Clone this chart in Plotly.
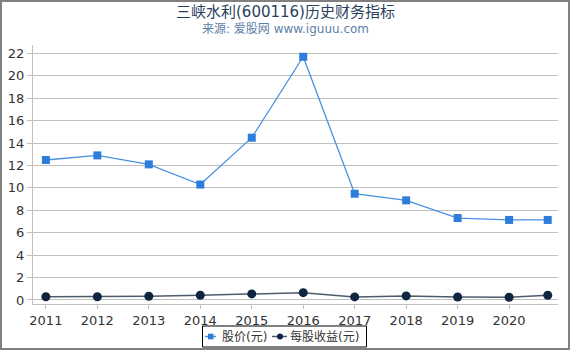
import plotly.graph_objects as go

years = [2011, 2012, 2013, 2014, 2015, 2016, 2017, 2018, 2019, 2020, 2020.75]
tick_vals = [2011, 2012, 2013, 2014, 2015, 2016, 2017, 2018, 2019, 2020]
tick_text = ["2011", "2012", "2013", "2014", "2015", "2016", "2017", "2018", "2019", "2020"]
price = [12.49, 12.9, 12.1, 10.3, 14.48, 21.7, 9.48, 8.89, 7.31, 7.14, 7.14]
eps = [0.29, 0.29, 0.33, 0.42, 0.54, 0.65, 0.27, 0.36, 0.26, 0.24, 0.42]
y_ticks = list(range(0, 23, 2))
series_names = ["股价(元)", "每股收益(元)"]

FONT = "DejaVu Sans, Noto Sans CJK SC, sans-serif"
PRICE_LINE, PRICE_MARK = "#4a90e2", "#2d7ddb"
EPS_LINE, EPS_MARK = "#4d5b6b", "#0f2440"

fig = go.Figure()
fig.add_trace(go.Scatter(
    x=years, y=price, name=series_names[0], mode="lines+markers",
    line=dict(color=PRICE_LINE, width=1.3),
    marker=dict(symbol="square", size=8, color=PRICE_MARK),
))
fig.add_trace(go.Scatter(
    x=years, y=eps, name=series_names[1], mode="lines+markers",
    line=dict(color=EPS_LINE, width=1.5),
    marker=dict(symbol="circle", size=9, color=EPS_MARK),
))

L, R, T, B = 33, 12, 45, 46
W, H = 570, 350
pw, ph = W - L - R, H - T - B


def xp(px):
    return (px - L) / pw


def yp(py):
    return 1 - (py - T) / ph


fig.update_layout(
    width=W, height=H,
    margin=dict(l=L, r=R, t=T, b=B, autoexpand=False),
    paper_bgcolor="white", plot_bgcolor="white",
    font=dict(family=FONT, size=13, color="#333333"),
    showlegend=False,
    xaxis=dict(
        range=[2010.75, 2020.95], tickvals=tick_vals, ticktext=tick_text,
        showgrid=False, zeroline=False, showline=True, linecolor="#c0c0c0", linewidth=1,
        ticks="outside", ticklen=4, tickcolor="#c0c0c0",
        tickfont=dict(size=13, color="#333333"),
    ),
    yaxis=dict(
        range=[-0.36, 22.75], tickvals=y_ticks,
        showgrid=True, gridcolor="#c0c0c0", gridwidth=1, zeroline=False,
        showline=True, linecolor="#c0c0c0", linewidth=1,
        ticks="outside", ticklen=5, tickcolor="#c0c0c0",
        tickfont=dict(size=13, color="#333333"),
    ),
)

# titles
fig.add_annotation(text="三峡水利(600116)历史财务指标", x=xp(W / 2), xref="paper",
                   xanchor="center", y=yp(12), yref="paper", yanchor="middle",
                   showarrow=False, borderpad=0, font=dict(size=15, color="#2b3f5c"))
fig.add_annotation(text="来源: 爱股网 www.iguuu.com", x=xp(W / 2), xref="paper",
                   xanchor="center", y=yp(29), yref="paper", yanchor="middle",
                   showarrow=False, borderpad=0, font=dict(size=12, color="#5b7fa8"))

# custom legend box
fig.add_shape(type="rect", xref="paper", yref="paper",
              x0=xp(202.5), x1=xp(366.5), y0=yp(347), y1=yp(326),
              line=dict(color="black", width=1), fillcolor="white", layer="above")
ly = 336.5
# item 1
fig.add_shape(type="line", xref="paper", yref="paper", x0=xp(205), x1=xp(216), y0=yp(ly), y1=yp(ly),
              line=dict(color=PRICE_LINE, width=1.5), layer="above")
fig.add_shape(type="rect", xref="paper", yref="paper", x0=xp(208), x1=xp(213.5),
              y0=yp(ly + 2.8), y1=yp(ly - 2.8), line=dict(width=0), fillcolor=PRICE_MARK, layer="above")
fig.add_annotation(text=series_names[0], x=xp(221), xref="paper", xanchor="left",
                   y=yp(ly), yref="paper", yanchor="middle", showarrow=False, borderpad=0,
                   font=dict(size=12, color="#333333"))
# item 2
fig.add_shape(type="line", xref="paper", yref="paper", x0=xp(272), x1=xp(287), y0=yp(ly), y1=yp(ly),
              line=dict(color=EPS_LINE, width=1.5), layer="above")
fig.add_shape(type="circle", xref="paper", yref="paper", x0=xp(277), x1=xp(283),
              y0=yp(ly + 3), y1=yp(ly - 3), line=dict(width=0), fillcolor=EPS_MARK, layer="above")
fig.add_annotation(text=series_names[1], x=xp(289), xref="paper", xanchor="left",
                   y=yp(ly), yref="paper", yanchor="middle", showarrow=False, borderpad=0,
                   font=dict(size=12, color="#333333"))

# outer grey border
fig.add_shape(
    type="rect", xref="paper", yref="paper",
    x0=xp(0), x1=xp(W), y0=yp(H), y1=yp(0),
    line=dict(color="#808080", width=4), fillcolor="rgba(0,0,0,0)", layer="above",
)

fig.write_html("out.html")
